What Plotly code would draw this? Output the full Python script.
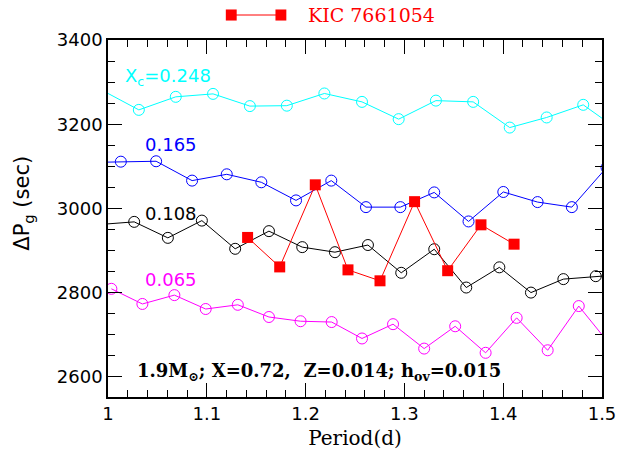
import plotly.graph_objects as go

# ---- data ----
period_248 = [0.9937, 1.0312, 1.0686, 1.1063, 1.1436, 1.1810, 1.2190, 1.2571, 1.2942,
              1.3319, 1.3696, 1.4066, 1.4440, 1.4810, 1.5186]
dp_248 = [3281, 3234, 3265, 3272, 3243, 3244, 3273, 3253, 3212, 3256, 3253, 3192,
          3216, 3246, 3183]

period_165 = [0.9779, 1.0130, 1.0487, 1.0851, 1.1202, 1.1552, 1.1903, 1.2260, 1.2611,
              1.2959, 1.3302, 1.3649, 1.4001, 1.4348, 1.4695, 1.5046]
dp_165 = [3109, 3111, 3112, 3066, 3081, 3062, 3019, 3066, 3003, 3003, 3038, 2969,
          3039, 3015, 3003, 3097]

period_108 = [0.9932, 1.0265, 1.0606, 1.0950, 1.1287, 1.1629, 1.1966, 1.2297, 1.2631,
              1.2968, 1.3302, 1.3626, 1.3961, 1.4281, 1.4609, 1.4937, 1.5270]
dp_108 = [2962, 2968, 2930, 2971, 2904, 2946, 2908, 2896, 2913, 2847, 2903, 2812,
          2860, 2800, 2832, 2839, 2844]

period_065 = [1.0034, 1.0348, 1.0672, 1.0989, 1.1314, 1.1629, 1.1949, 1.2264, 1.2571,
              1.2885, 1.3200, 1.3514, 1.3822, 1.4136, 1.4450, 1.4765, 1.5079]
dp_065 = [2809, 2773, 2794, 2761, 2771, 2742, 2732, 2730, 2691, 2725, 2667, 2720,
          2657, 2740, 2663, 2768, 2677]

period_kic = [1.1413, 1.1738, 1.2098, 1.2429, 1.2753, 1.3103, 1.3438, 1.3775, 1.4110]
dp_kic = [2931, 2861, 3056, 2854, 2828, 3016, 2852, 2961, 2915]

x_ticks = [1, 1.1, 1.2, 1.3, 1.4, 1.5]
x_ticklabels = ["1", "1.1", "1.2", "1.3", "1.4", "1.5"]
y_ticks = [2600, 2800, 3000, 3200, 3400]

FONT = "DejaVu Sans"
SERIF = "DejaVu Serif"

fig = go.Figure()

models = [
    (period_248, dp_248, "#00FFFF"),
    (period_165, dp_165, "#0000FF"),
    (period_108, dp_108, "#000000"),
    (period_065, dp_065, "#FF00FF"),
]
for px_, py_, col in models:
    fig.add_trace(go.Scatter(
        x=px_, y=py_, mode="lines+markers",
        line=dict(color=col, width=1),
        marker=dict(symbol="circle-open", size=11, color=col, line=dict(width=1, color=col)),
        showlegend=False, cliponaxis=True,
    ))

fig.add_trace(go.Scatter(
    x=period_kic, y=dp_kic, mode="lines+markers",
    line=dict(color="#FF0000", width=1),
    marker=dict(symbol="square", size=11, color="#FF0000"),
    showlegend=False,
))

# series labels
labels = [
    (1.0153, 3312, "X<sub>c</sub>=0.248", "#00FFFF"),
    (1.0351, 3151, "0.165", "#0000FF"),
    (1.0351, 2989, "0.108", "#000000"),
    (1.0351, 2830, "0.065", "#FF00FF"),
]
for lx, ly, txt, col in labels:
    fig.add_annotation(x=lx, y=ly, xref="x", yref="y", text=txt, showarrow=False,
                       xanchor="left", yanchor="middle",
                       font=dict(family=FONT, size=18, color=col))

fig.add_annotation(x=1.0272, y=2611, xref="x", yref="y",
                   text="<b>1.9M<sub>⊙</sub>; X=0.72,  Z=0.014; h<sub>ov</sub>=0.015</b>",
                   showarrow=False, xanchor="left", yanchor="middle",
                   font=dict(family=SERIF, size=18, color="#000000"))

# legend (top)
fig.add_shape(type="line", xref="paper", yref="paper", x0=0.2495, x1=0.350, y0=1.070, y1=1.070,
              line=dict(color="#FF0000", width=1))
for cx in (0.2495, 0.350):
    fig.add_shape(type="rect", xref="paper", yref="paper",
                  x0=cx - 0.011, x1=cx + 0.011, y0=1.070 - 0.0155, y1=1.070 + 0.0155,
                  line=dict(width=0), fillcolor="#FF0000")
fig.add_annotation(x=0.4017, y=1.070, xref="paper", yref="paper", text="KIC 7661054",
                   showarrow=False, xanchor="left", yanchor="middle",
                   font=dict(family=SERIF, size=19, color="#FF0000"))

# y-axis title as annotation (placed slightly above centre, as in the reference)
fig.add_annotation(x=-0.171, y=0.543, xref="paper", yref="paper",
                   text="ΔP<sub>g</sub> (sec)", textangle=-90, showarrow=False,
                   xanchor="center", yanchor="middle",
                   font=dict(family=FONT, size=21, color="black"))

axis_common = dict(
    showline=True, linecolor="black", linewidth=1.5, mirror="ticks",
    ticks="inside", ticklen=14, tickwidth=1, tickcolor="black",
    showgrid=False, zeroline=False,
    tickfont=dict(family=FONT, size=18, color="black"),
)

fig.update_xaxes(
    range=[1, 1.5], tickvals=x_ticks, ticktext=x_ticklabels,
    minor=dict(ticks="inside", ticklen=7, dtick=0.02, tickcolor="black", showgrid=False),
    title=dict(text="Period(d)", font=dict(family=SERIF, size=20, color="black"), standoff=8),
    **axis_common,
)
fig.update_yaxes(
    range=[2552, 3400], tickvals=y_ticks,
    minor=dict(ticks="inside", ticklen=7, dtick=50, tickcolor="black", showgrid=False),
    **axis_common,
)

fig.update_layout(
    width=628, height=459,
    margin=dict(l=108, r=17, t=40, b=62),
    paper_bgcolor="white", plot_bgcolor="white",
    showlegend=False,
)

fig.write_html("out.html")
